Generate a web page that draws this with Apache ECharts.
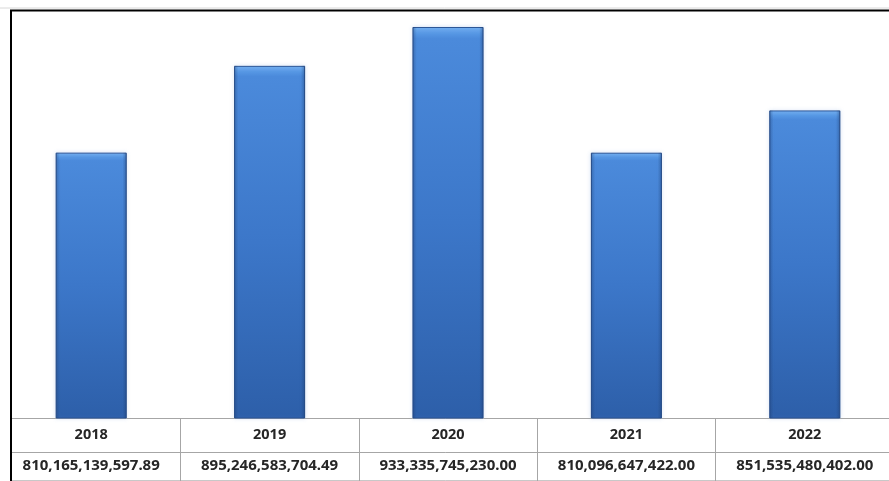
<!DOCTYPE html>
<html>
<head>
<meta charset="utf-8">
<script src="https://cdn.jsdelivr.net/npm/echarts@6/dist/echarts.min.js"></script>
<style>
html,body{margin:0;padding:0;background:#fff;}
#chart{width:889px;height:481px;}
</style>
</head>
<body>
<div id="chart"></div>
<script>
var years = ['2018', '2019', '2020', '2021', '2022'];
var values = [810165139597.89, 895246583704.49, 933335745230.00, 810096647422.00, 851535480402.00];
var valueLabels = ['810,165,139,597.89', '895,246,583,704.49', '933,335,745,230.00', '810,096,647,422.00', '851,535,480,402.00'];

var chart = echarts.init(document.getElementById('chart'));
var font = '"Noto Sans", sans-serif';
var lineGray = '#a6a6a6';
chart.setOption({
  animation: false,
  backgroundColor: '#ffffff',
  grid: { left: 2, width: 892, top: 10, bottom: 63, outerBoundsMode: 'none', containLabel: false },
  xAxis: [
    {
      type: 'category', data: years, position: 'bottom', boundaryGap: true,
      axisLine: { show: true, lineStyle: { color: lineGray, width: 1 } },
      axisTick: { show: true, alignWithLabel: false, length: 63, lineStyle: { color: lineGray } },
      axisLabel: { interval: 0, margin: 9, fontFamily: font, fontWeight: 'bold', fontSize: 14.5, color: '#262626' }
    },
    {
      type: 'category', data: valueLabels, position: 'bottom', offset: 34, boundaryGap: true,
      axisLine: { show: true, lineStyle: { color: lineGray, width: 1 } },
      axisTick: { show: false },
      axisLabel: { interval: 0, hideOverlap: false, margin: 6, fontFamily: font, fontWeight: 'bold', fontSize: 15, color: '#262626' }
    },
    {
      type: 'category', data: years, position: 'bottom', offset: 62, boundaryGap: true,
      axisLine: { show: true, lineStyle: { color: '#c8c8c8', width: 1 } },
      axisTick: { show: false },
      axisLabel: { show: false }
    }
  ],
  yAxis: {
    type: 'value', min: 550e9, max: 950e9, show: false,
    splitLine: { show: false }
  },
  series: [
    {
      type: 'bar', data: values, barWidth: 71, xAxisIndex: 0,
      itemStyle: {
        color: new echarts.graphic.LinearGradient(0, 0, 0, 1, [
          { offset: 0, color: '#74b0f2' },
          { offset: 0.018, color: '#5596e3' },
          { offset: 0.03, color: '#4b8adb' },
          { offset: 0.5, color: '#3c77c9' },
          { offset: 1, color: '#2d5fa9' }
        ]),
        borderColor: '#2b5596', borderWidth: 1,
        shadowColor: 'rgba(120,160,220,0.25)', shadowBlur: 4
      },
      z: 2
    },
    {
      type: 'bar', data: values, barWidth: 71, barGap: '-100%', xAxisIndex: 0,
      silent: true,
      itemStyle: {
        color: new echarts.graphic.LinearGradient(0, 0, 1, 0, [
          { offset: 0, color: 'rgba(20,50,100,0.35)' },
          { offset: 0.06, color: 'rgba(20,50,100,0.0)' },
          { offset: 0.94, color: 'rgba(20,50,100,0.0)' },
          { offset: 1, color: 'rgba(20,50,100,0.4)' }
        ])
      },
      z: 3
    }
  ],
  graphic: [
    { type: 'rect', shape: { x: 0, y: 0, width: 10, height: 481 }, style: { fill: '#ffffff' }, z: 9 },
    { type: 'line', shape: { x1: 0, y1: 8, x2: 889, y2: 8 }, style: { stroke: '#d8d8d8', lineWidth: 1 }, z: 10 },
    { type: 'line', shape: { x1: 10, y1: 10.5, x2: 889, y2: 10.5 }, style: { stroke: '#000', lineWidth: 2 }, z: 10 },
    { type: 'line', shape: { x1: 11, y1: 10, x2: 11, y2: 481 }, style: { stroke: '#000', lineWidth: 2 }, z: 10 }
  ]
});
</script>
</body>
</html>
